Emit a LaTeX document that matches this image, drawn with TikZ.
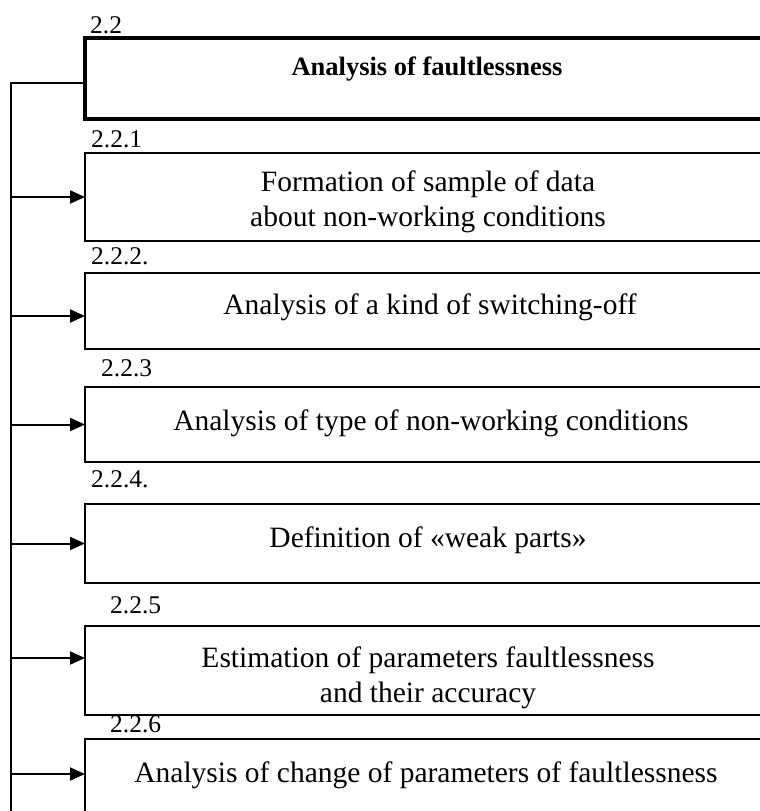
\documentclass[tikz,border=0pt]{standalone}
\usepackage{fontspec}
\setmainfont{Liberation Serif}
\usetikzlibrary{arrows.meta}
\tikzset{
	block/.style={draw, line width=2.2pt, anchor=north west, minimum width=686pt, inner sep=0pt, outer sep=0pt},
	topblock/.style={block, line width=4.5pt},
	blocktext/.style={anchor=base, align=center, inner sep=0pt, font=\fontsize{29.5}{35}\selectfont},
	number/.style={anchor=base west, inner sep=0pt, font=\fontsize{25.5}{30}\selectfont},
	wire/.style={line width=2pt},
	feed/.style={wire, -{Triangle[length=15pt,width=13pt]}}
}

\begin{document}
\begin{tikzpicture}[x=1pt,y=-1pt]

	\clip (0,0) rectangle (760,811);

	% numbers above the blocks
	\foreach \x/\y/\n [count=\i from 0] in {90/33/2.2, 91/147/2.2.1, 91/264/2.2.2., 101/376/2.2.3, 91/487/2.2.4., 110/613/2.2.5, 110/732/2.2.6}
		\node[number] (num\i) at (\x,\y) {\n};

	% blocks
	\node[topblock, minimum height=81pt] (b0) at (85,38) {};
	\node[block, minimum height=88pt] (b1) at (85,153) {};
	\node[block, minimum height=76pt] (b2) at (85,273) {};
	\node[block, minimum height=75pt] (b3) at (85,387) {};
	\node[block, minimum height=79pt] (b4) at (85,504) {};
	\node[block, minimum height=89pt] (b5) at (85,626) {};
	\node[block, minimum height=91pt] (b6) at (85,739) {};

	% (for two lines the base is the last line)
	\node[blocktext, font=\fontsize{26.5}{32}\selectfont\bfseries] (t0) at (427,75) {Analysis of faultlessness};
	\node[blocktext] (t1) at (428,226) {Formation of sample of data\\about non-working conditions};
	\node[blocktext] (t2) at (430,314) {Analysis of a kind of switching-off};
	\node[blocktext] (t3) at (431,430) {Analysis of type of non-working conditions};
	\node[blocktext] (t4) at (428,547) {Definition of «weak parts»};
	\node[blocktext] (t5) at (428,702) {Estimation of parameters faultlessness\\and their accuracy};
	\node[blocktext] (t6) at (426,782) {Analysis of change of parameters of faultlessness};

	% feed line on the left
	\coordinate (spine top) at (11,83);
	\coordinate (spine end) at (11,811);
	\draw[wire] ([yshift=-4.5pt]b0.west) -- (spine top) -- (spine end);

	\draw[feed] (b1.west -| spine top) -- (b1.west);
	\draw[feed] ([yshift=-5pt]b2.west -| spine top) -- ([yshift=-5pt]b2.west);
	\draw[feed] (b3.west -| spine top) -- (b3.west);
	\draw[feed] (b4.west -| spine top) -- (b4.west);
	\draw[feed] ([yshift=12.5pt]b5.west -| spine top) -- ([yshift=12.5pt]b5.west);
	\draw[feed] ([yshift=10.5pt]b6.west -| spine top) -- ([yshift=10.5pt]b6.west);

\end{tikzpicture}
\end{document}
